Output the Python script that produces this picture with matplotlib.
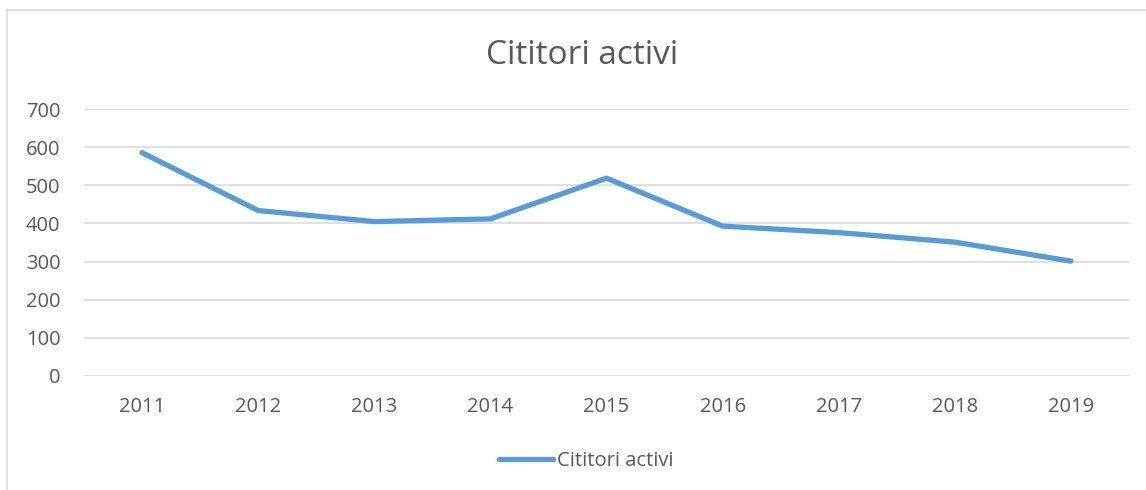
import matplotlib
matplotlib.use("Agg")
import matplotlib.pyplot as plt
from matplotlib.patches import Rectangle

years = ["2011", "2012", "2013", "2014", "2015", "2016", "2017", "2018", "2019"]
cititori = [586, 434, 405, 412, 519, 393, 376, 351, 301]
yticks = [0, 100, 200, 300, 400, 500, 600, 700]

W, H = 1146, 490
fig = plt.figure(figsize=(W / 100, H / 100), dpi=100)
plt.rcParams['font.family'] = ['Open Sans', 'DejaVu Sans']
gray = "#595959"

# chart border
fig.patches.append(Rectangle((7 / W, -0.1), 1.2, 1 - 10 / H + 0.1, transform=fig.transFigure,
                             fill=False, edgecolor="#D9D9D9", linewidth=1.2))

ax = fig.add_axes([84 / W, 1 - 375.7 / H, (1129 - 84) / W, (375.7 - 109.3) / H])
x = list(range(len(years)))
ax.plot(x, cititori, color="#5B9BD5", linewidth=3.8, solid_capstyle="round",
        solid_joinstyle="round", label="Cititori activi", zorder=3)
ax.set_xlim(-0.5, len(years) - 0.5)
ax.set_ylim(0, 700)
ax.set_yticks(yticks)
ax.set_yticklabels([str(v) for v in yticks])
ax.set_xticks(x)
ax.set_xticklabels(years)
ax.grid(axis="y", color="#D9D9D9", linewidth=1.1)
ax.set_axisbelow(True)
for s in ax.spines.values():
    s.set_visible(False)
ax.tick_params(axis="both", length=0, labelsize=14.5, labelcolor=gray)
ax.tick_params(axis="y", pad=17)
ax.tick_params(axis="x", pad=15)

fig.text(582 / W, 1 - 56 / H, "Cititori activi", ha="center", va="center",
         fontsize=24, color=gray)

leg = fig.legend(loc="center", bbox_to_anchor=(586 / W, 1 - 461 / H), frameon=False,
                 fontsize=14.5, handlelength=2.7, handletextpad=0.2, labelcolor=gray)

fig.savefig("out.png", dpi=100)
